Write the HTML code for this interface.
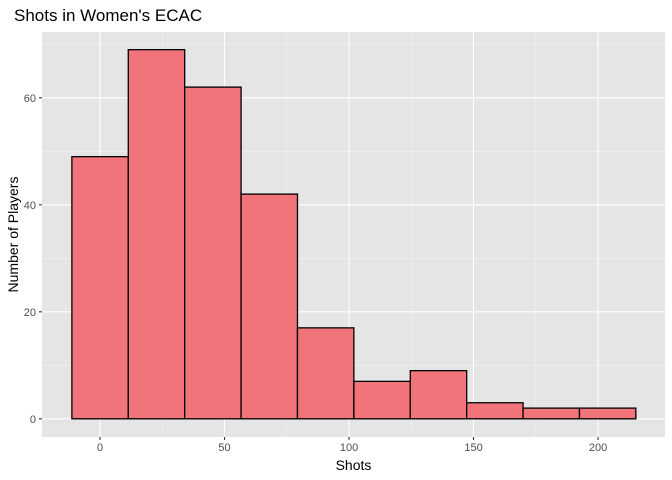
<!DOCTYPE html>
<html><head><meta charset="utf-8"><style>
html,body{margin:0;padding:0;background:#fff;}
svg{display:block;font-family:"Liberation Sans",sans-serif;}
</style></head><body>
<svg id="chart" width="672" height="480">
<script>
const binStart = -11.3;
const binWidth = 22.65;
const counts = [49, 69, 62, 42, 17, 7, 9, 3, 2, 2];
const xTicks = [0, 50, 100, 150, 200];
const xMinor = [25, 75, 125, 175];
const yTicks = [0, 20, 40, 60];
const yMinor = [10, 30, 50, 70];
</script>
</svg>
<script>
const NS = "http://www.w3.org/2000/svg";
const svg = document.getElementById("chart");
const P = {l:42, r:665, t:32, b:437};
const xMin = -23.3, xMax = 226.9, yMin = -3.4, yMax = 72.3;
const X = v => P.l + (v - xMin) / (xMax - xMin) * (P.r - P.l);
const Y = v => P.b - (v - yMin) / (yMax - yMin) * (P.b - P.t);
function mk(tag, attrs, parent){ const e=document.createElementNS(NS,tag); for(const k in attrs) e.setAttribute(k,attrs[k]); (parent||svg).appendChild(e); return e; }

const panel = mk("rect",{x:P.l,y:P.t,width:P.r-P.l,height:P.b-P.t,fill:"#E5E5E5"});



xMinor.forEach(v=>{ const l=mk("line",{x1:X(v),x2:X(v),y1:P.t,y2:P.b,stroke:"#F2F2F2","stroke-width":0.55});

 });
yMinor.forEach(v=>{ const l=mk("line",{x1:P.l,x2:P.r,y1:Y(v),y2:Y(v),stroke:"#F2F2F2","stroke-width":0.55});

 });
xTicks.forEach(v=>{ const l=mk("line",{x1:X(v),x2:X(v),y1:P.t,y2:P.b,stroke:"#fff","stroke-width":1.1});


const t=mk("line",{x1:X(v),x2:X(v),y1:P.b,y2:P.b+3,stroke:"#333","stroke-width":1.1});


const tx=mk("text",{x:X(v),y:P.b+14,"text-anchor":"middle","font-size":"11",fill:"#4D4D4D"}); tx.textContent=v;

 });
yTicks.forEach(v=>{ const l=mk("line",{x1:P.l,x2:P.r,y1:Y(v),y2:Y(v),stroke:"#fff","stroke-width":1.1});


const t=mk("line",{x1:P.l-3,x2:P.l,y1:Y(v),y2:Y(v),stroke:"#333","stroke-width":1.1});


const tx=mk("text",{x:P.l-6,y:Y(v)+4,"text-anchor":"end","font-size":"11",fill:"#4D4D4D"}); tx.textContent=v;

 });

counts.forEach((c,i)=>{ const x0=binStart+i*binWidth, x1=x0+binWidth;
const r=mk("rect",{x:X(x0),y:Y(c),width:X(x1)-X(x0),height:Y(0)-Y(c),fill:"#F1747A",stroke:"#000","stroke-width":1.3});

 });

const title=mk("text",{x:14,y:21,"font-size":"17",fill:"#000"}); title.textContent="Shots in Women's ECAC";


const xt=mk("text",{x:(P.l+P.r)/2,y:470,"text-anchor":"middle","font-size":"14",fill:"#000"}); xt.textContent="Shots";


const yt=mk("text",{x:0,y:0,"text-anchor":"middle","font-size":"14",fill:"#000",transform:`translate(18,${(P.t+P.b)/2}) rotate(-90)`}); yt.textContent="Number of Players";


</script>
</body></html>
